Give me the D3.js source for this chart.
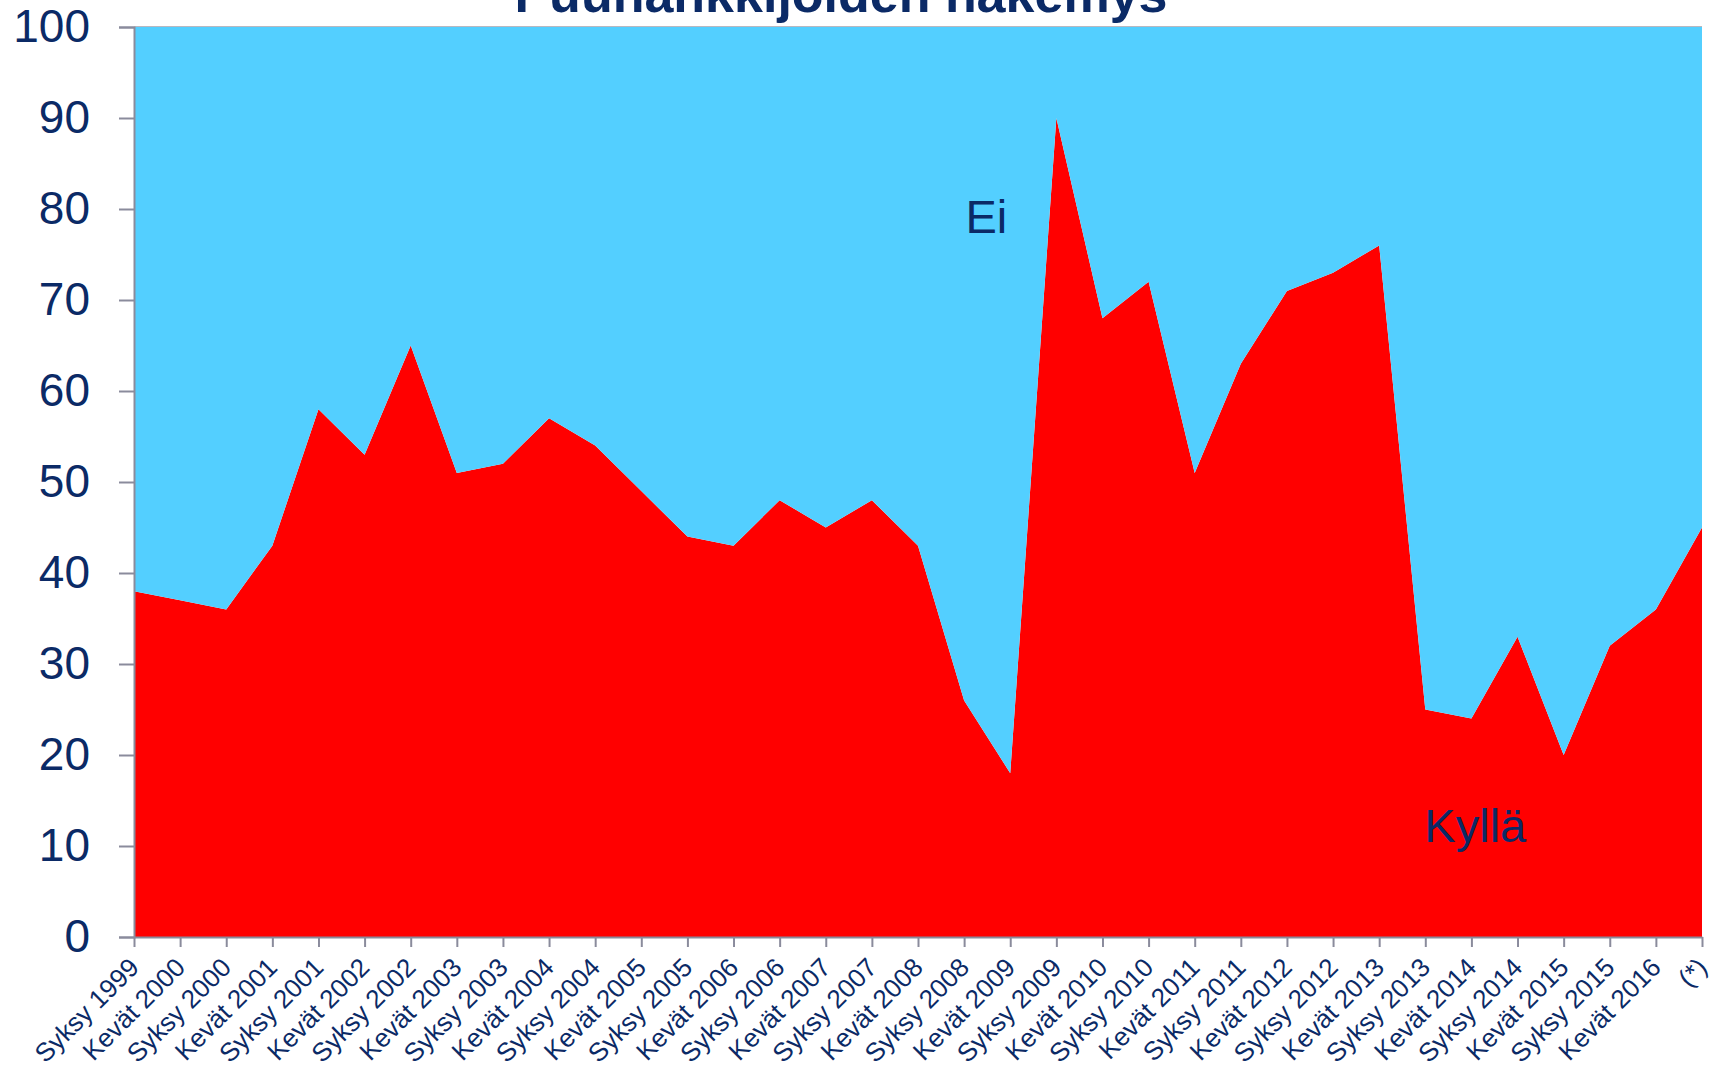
<!DOCTYPE html>
<html>
<head>
<meta charset="utf-8">
<script src="https://cdn.jsdelivr.net/npm/d3@7"></script>
<style>
  html, body { margin: 0; padding: 0; background: #fff; }
  svg { display: block; font-family: Arial, "Liberation Sans", sans-serif; }
</style>
</head>
<body>
<div id="chart"></div>
<script>
// Data
const categories = [
    'Syksy 1999', 'Kevät 2000', 'Syksy 2000', 'Kevät 2001', 'Syksy 2001', 'Kevät 2002',
    'Syksy 2002', 'Kevät 2003', 'Syksy 2003', 'Kevät 2004', 'Syksy 2004', 'Kevät 2005',
    'Syksy 2005', 'Kevät 2006', 'Syksy 2006', 'Kevät 2007', 'Syksy 2007', 'Kevät 2008',
    'Syksy 2008', 'Kevät 2009', 'Syksy 2009', 'Kevät 2010', 'Syksy 2010', 'Kevät 2011',
    'Syksy 2011', 'Kevät 2012', 'Syksy 2012', 'Kevät 2013', 'Syksy 2013', 'Kevät 2014',
    'Syksy 2014', 'Kevät 2015', 'Syksy 2015', 'Kevät 2016', '(*)'
];
const kylla = [38, 37, 36, 43, 58, 53, 65, 51, 52, 57, 54, 49, 44, 43, 48, 45, 48, 43,
    26, 18, 90, 68, 72, 51, 63, 71, 73, 76, 25, 24, 33, 20, 32, 36, 45];
const ei = [62, 63, 64, 57, 42, 47, 35, 49, 48, 43, 46, 51, 56, 57, 52, 55, 52, 57,
    74, 82, 10, 32, 28, 49, 37, 29, 27, 24, 75, 76, 67, 80, 68, 64, 55];
const yTicks = [0, 10, 20, 30, 40, 50, 60, 70, 80, 90, 100];
const seriesNames = ['Kyllä', 'Ei'];

const W = 1718, H = 1070;
const margin = { top: 27, right: 16, bottom: 133, left: 134 };
const innerW = W - margin.left - margin.right;
const innerH = H - margin.top - margin.bottom;

const colors = { 'Kyllä': '#ff0000', 'Ei': '#53cfff' };
const textColor = '#0b2a66';
const axisColor = '#8a8b9c';

const svg = d3.select('#chart').append('svg')
    .attr('width', W)
    .attr('height', H);

// Title (cut off at the top in the original)
svg.append('text')
    .attr('x', 841)
    .attr('y', 12)
    .attr('text-anchor', 'middle')
    .style('font-size', '52px')
    .style('font-weight', 'bold')
    .style('fill', textColor)
    .text('Puuhankkijoiden näkemys');

const g = svg.append('g').attr('transform', `translate(${margin.left},${margin.top})`);

const x = d3.scalePoint().domain(categories).range([0, innerW]).padding(0);
const y = d3.scaleLinear().domain([0, 100]).range([innerH, 0]);

// Stack the two series
const table = categories.map((c, i) => ({ cat: c, 'Kyllä': kylla[i], 'Ei': ei[i] }));
const stacked = d3.stack().keys(seriesNames)(table);

const area = d3.area()
    .x(d => x(d.data.cat))
    .y0(d => y(d[0]))
    .y1(d => y(d[1]));

// Top line at 100
g.append('line')
    .attr('x1', 0).attr('x2', innerW)
    .attr('y1', y(100)).attr('y2', y(100))
    .attr('stroke', '#b8b8c0')
    .attr('stroke-width', 2);

g.append('g').selectAll('path')
    .data(stacked)
    .join('path')
    .attr('fill', d => colors[d.key])
    .attr('d', area);

// Y axis
const yAxis = g.append('g')
    .call(d3.axisLeft(y).tickValues(yTicks).tickSize(15).tickPadding(29));
yAxis.select('.domain').attr('stroke', axisColor).attr('stroke-width', 2);
yAxis.selectAll('.tick line').attr('stroke', axisColor).attr('stroke-width', 2);
yAxis.selectAll('.tick text')
    .style('font-size', '46px')
    .style('font-family', 'Arial, "Liberation Sans", sans-serif')
    .attr('fill', textColor);

// X axis
const xAxis = g.append('g')
    .attr('transform', `translate(0,${innerH})`)
    .call(d3.axisBottom(x).tickSize(10).tickSizeOuter(0));
xAxis.select('.domain').attr('stroke', axisColor).attr('stroke-width', 2);
xAxis.selectAll('.tick line').attr('stroke', axisColor).attr('stroke-width', 2);
xAxis.selectAll('.tick text')
    .style('font-size', '26px')
    .style('font-family', 'Arial, "Liberation Sans", sans-serif')
    .attr('fill', textColor)
    .attr('text-anchor', 'end')
    .attr('dy', 0)
    .attr('y', 0)
    .attr('transform', 'translate(6,32) rotate(-45)');

// Series labels inside the areas
const idx = d3.scaleLinear().domain([0, categories.length - 1]).range([0, innerW]);
g.append('text')
    .attr('x', idx(18.03))
    .attr('y', y(77.4))
    .style('font-size', '47px')
    .style('fill', textColor)
    .text('Ei');
g.append('text')
    .attr('x', idx(27.98))
    .attr('y', y(10.4))
    .style('font-size', '47px')
    .style('fill', textColor)
    .text('Kyllä');
</script>
</body>
</html>
